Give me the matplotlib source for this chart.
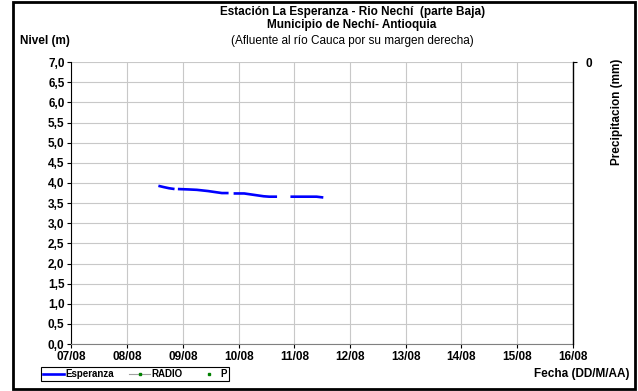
import datetime as dt

import matplotlib
matplotlib.use("Agg")
import matplotlib.dates as mdates
import matplotlib.pyplot as plt
import numpy as np
from matplotlib.lines import Line2D
from matplotlib.patches import Rectangle

# level readings (days after 07/08 00:00, metres); NaN marks gaps in the record
day_offset = [1.56, 1.65, 1.75, 1.85, 1.88, 1.91, 2.10, 2.25, 2.45, 2.60, 2.70, 2.82,
              2.86, 2.91, 3.10, 3.30, 3.45, 3.55, 3.69, 3.80, 3.93, 4.20, 4.40, 4.52]
nivel = [3.93, 3.90, 3.87, 3.85, np.nan, 3.85, 3.84, 3.83, 3.80, 3.77, 3.75, 3.75,
         np.nan, 3.74, 3.74, 3.70, 3.67, 3.66, 3.66, np.nan, 3.66, 3.66, 3.66, 3.64]

start = dt.datetime(2000, 8, 7)
end = dt.datetime(2000, 8, 16)
y_ticks = np.arange(0, 7.01, 0.5)

plt.rcParams.update({
    "font.family": ["Liberation Sans", "DejaVu Sans"],
    "font.size": 8.5,
})

fig = plt.figure(figsize=(6.38, 3.91), dpi=100)
fig.patches.append(Rectangle((0.021, 0.004), 0.975, 0.990, transform=fig.transFigure,
                             fill=False, edgecolor="black", linewidth=2))

ax = fig.add_axes([0.112, 0.120, 0.786, 0.721])
times = [start + dt.timedelta(days=d) for d in day_offset]
ax.plot(times, nivel, color="#0000FF", linewidth=1.9, solid_capstyle="butt")

ax.set_xlim(start, end)
ax.set_ylim(0, 7)
ax.set_yticks(y_ticks)
ax.set_yticklabels([f"{v:.1f}".replace(".", ",") for v in y_ticks], fontweight="bold")
ax.xaxis.set_major_locator(mdates.DayLocator())
ax.xaxis.set_major_formatter(mdates.DateFormatter("%d/%m"))
for lab in ax.get_xticklabels():
    lab.set_fontweight("bold")
ax.grid(True, color="#C8C8C8", linewidth=0.8)
ax.set_axisbelow(True)
ax.tick_params(length=3, width=0.8, colors="black", pad=2)
ax.spines["top"].set_visible(False)
ax.spines["right"].set_visible(False)
ax.spines["left"].set_color("black")
ax.spines["bottom"].set_color("#808080")

ax2 = ax.twinx()
ax2.set_ylim(1, 0)
ax2.set_yticks([0])
ax2.set_yticklabels(["0"], fontweight="bold")
ax2.tick_params(length=3, width=0.8, pad=6)
for s in ("top", "left", "bottom"):
    ax2.spines[s].set_visible(False)
ax2.spines["right"].set_color("black")
ax2.spines["right"].set_linewidth(1.0)
fig.text(0.967, 0.713, "Precipitacion (mm)", rotation=90, ha="center", va="center",
         fontweight="bold", fontsize=8.5)

fig.text(0.552, 0.970, "Estación La Esperanza - Rio Nechí  (parte Baja)", ha="center",
         va="center", fontweight="bold", fontsize=8.5)
fig.text(0.552, 0.936, "Municipio de Nechí- Antioquia", ha="center", va="center",
         fontweight="bold", fontsize=8.5)
fig.text(0.552, 0.896, "(Afluente al río Cauca por su margen derecha)", ha="center",
         va="center", fontsize=8.5)
fig.text(0.031, 0.896, "Nivel (m)", ha="left", va="center", fontweight="bold", fontsize=8.5)
fig.text(0.986, 0.043, "Fecha (DD/M/AA)", ha="right", va="center", fontweight="bold",
         fontsize=8.5)

handles = [
    Line2D([], [], color="#0000FF", linewidth=1.9),
    Line2D([], [], color="#A0A0A0", linewidth=0.8, marker="s", markersize=2,
           markerfacecolor="#008000", markeredgecolor="#008000"),
    Line2D([], [], linestyle="none", marker="s", markersize=2,
           markerfacecolor="#008000", markeredgecolor="#008000"),
]
leg = fig.legend(handles, ["Esperanza", "RADIO", "P"], loc="center left",
                 bbox_to_anchor=(0.056, 0.043), ncol=3, fancybox=False,
                 edgecolor="black", framealpha=1, handlelength=2.2, handletextpad=0.1,
                 columnspacing=1.6, borderpad=0.2, prop={"weight": "bold", "size": 7})
leg.get_frame().set_linewidth(0.8)

fig.savefig("out.png", dpi=100)
